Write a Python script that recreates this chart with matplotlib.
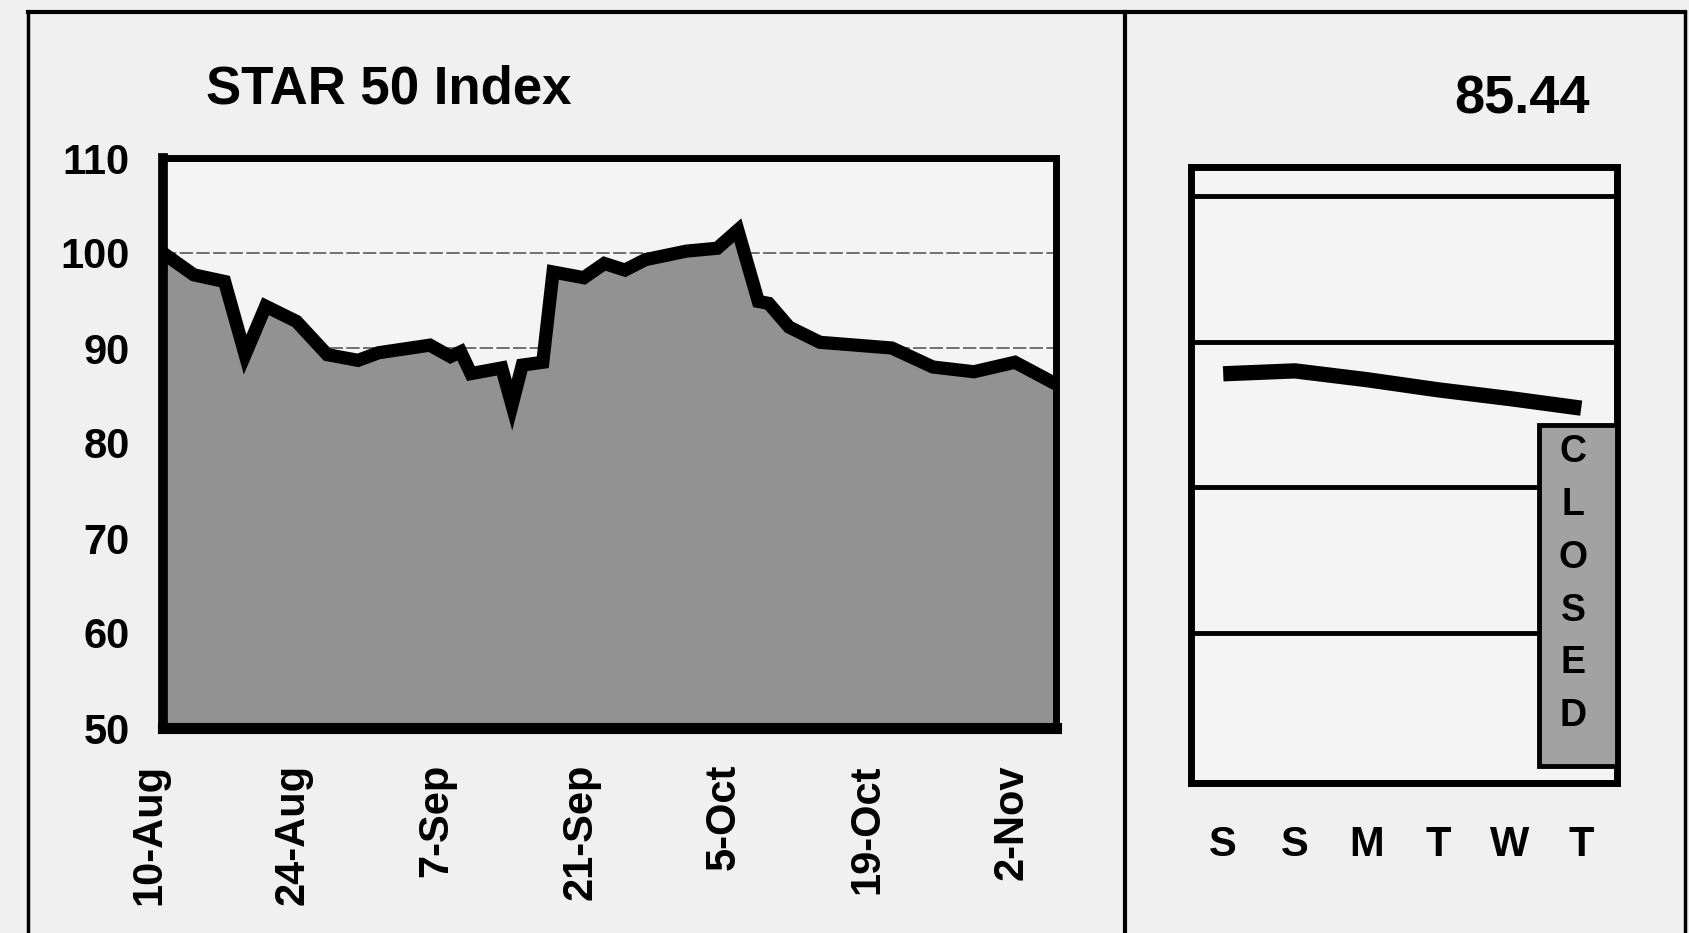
import numpy as np
import matplotlib.pyplot as plt
from matplotlib.lines import Line2D
from matplotlib.patches import Rectangle
from matplotlib.transforms import ScaledTranslation

plt.rcParams['font.family'] = ['Liberation Sans', 'DejaVu Sans']

# STAR 50 Index, turning points
dates = np.array(['2020-08-10', '2020-08-13', '2020-08-16', '2020-08-18', '2020-08-20',
                  '2020-08-23', '2020-08-26', '2020-08-29', '2020-08-31', '2020-09-05',
                  '2020-09-07', '2020-09-08', '2020-09-09', '2020-09-12', '2020-09-13',
                  '2020-09-14', '2020-09-16', '2020-09-17', '2020-09-20', '2020-09-22',
                  '2020-09-24', '2020-09-26', '2020-09-30', '2020-10-03', '2020-10-05',
                  '2020-10-07', '2020-10-08', '2020-10-10', '2020-10-13', '2020-10-20',
                  '2020-10-24', '2020-10-28', '2020-11-01', '2020-11-05'], dtype='datetime64[D]')
values = [100.0, 97.7, 97.0, 89.3, 94.4,
          92.8, 89.3, 88.7, 89.5, 90.3,
          89.1, 89.6, 87.3, 87.9, 84.0,
          88.2, 88.5, 98.0, 97.4, 98.9,
          98.2, 99.3, 100.2, 100.5, 102.4,
          94.9, 94.7, 92.2, 90.6, 90.0,
          88.0, 87.5, 88.5, 86.2]

tick_dates = np.array(['2020-08-10', '2020-08-24', '2020-09-07', '2020-09-21',
                       '2020-10-05', '2020-10-19', '2020-11-02'], dtype='datetime64[D]')
tick_labels = ['10-Aug', '24-Aug', '7-Sep', '21-Sep', '5-Oct', '19-Oct', '2-Nov']
y_ticks = [50, 60, 70, 80, 90, 100, 110]

# last week
week_days = ['S', 'S', 'M', 'T', 'W', 'T']
week_values = [87.8, 88.0, 87.4, 86.7, 86.1, 85.44]
week_grid = [70, 80, 90, 100]

W, H = 1690, 933
fig = plt.figure(figsize=(W / 100, H / 100), dpi=100, facecolor='#f0f0f0')

# ---- main chart
ax = fig.add_axes([163 / W, 1 - 728 / H, 893 / W, 570 / H])
ax.set_facecolor('#f4f4f4')
ax.set_axisbelow(True)
ax.fill_between(dates, values, 50, color='#929292', zorder=1)
ax.plot(dates, values, color='black', lw=9.5, solid_joinstyle='miter', zorder=3)
ax.set_xlim(dates[0], dates[-1])
ax.set_ylim(50, 110)
ax.set_yticks(y_ticks)
ax.set_yticklabels([str(v) for v in y_ticks], fontsize=30, fontweight='bold')
ax.set_xticks(tick_dates)
ax.set_xticklabels(tick_labels, rotation=90, fontsize=30, fontweight='bold')
ax.tick_params(length=0)
ax.tick_params(axis='y', pad=24)
ax.tick_params(axis='x', pad=26)
shift = ScaledTranslation(-0.14, 0, fig.dpi_scale_trans)
for lab in ax.get_xticklabels():
    lab.set_transform(lab.get_transform() + shift)
ax.grid(axis='y', color='#5a5a5a', lw=1.2, ls=(0, (8, 2)))
ax.grid(axis='x', visible=False)
for s in ax.spines.values():
    s.set_linewidth(5)
ax.spines['bottom'].set_linewidth(8)
ax.spines['left'].set_linewidth(7)

fig.text(206 / W, 1 - 90 / H, 'STAR 50 Index', fontsize=38, fontweight='bold',
         ha='left', va='center')

# ---- weekly panel
ax2 = fig.add_axes([1191 / W, 1 - 783 / H, 426 / W, 616 / H])
ax2.set_facecolor('#f4f4f4')
x = np.arange(len(week_days))
ax2.plot(x, week_values, color='black', lw=11, solid_capstyle='butt', zorder=5)
ax2.set_xlim(-0.45, 5.5)
ax2.set_ylim(59.7, 102)
ax2.set_yticks(week_grid)
ax2.set_yticklabels([])
ax2.set_xticks(x)
ax2.set_xticklabels(week_days, fontsize=30, fontweight='bold')
ax2.tick_params(length=0)
ax2.tick_params(axis='x', pad=30)
ax2.grid(axis='y', color='black', lw=3.5)
ax2.set_axisbelow(True)
for s in ax2.spines.values():
    s.set_linewidth(5)

ax2.add_patch(Rectangle((4.41, 60.9), 1.09, 84.25 - 60.9, facecolor='#a2a2a2',
                        edgecolor='black', lw=3.5, zorder=4))
for i, ch in enumerate('CLOSED'):
    ax2.text(4.885, 82.4 - 3.62 * i, ch, fontsize=27, fontweight='bold',
             ha='center', va='center', zorder=6)

fig.text(1590 / W, 1 - 99 / H, f'{week_values[-1]:.2f}', fontsize=39,
         fontweight='bold', ha='right', va='center')

# ---- outer frame and divider
for xs, ys, lw in [([28, 28], [12, H], 2.5), ([28, 1685], [12, 12], 3),
                   ([1685, 1685], [12, H], 2.5), ([1125, 1125], [12, H], 3)]:
    fig.add_artist(Line2D([v / W for v in xs], [1 - v / H for v in ys],
                          transform=fig.transFigure, color='black', lw=lw))

fig.savefig('out.png', dpi=100, facecolor=fig.get_facecolor())
